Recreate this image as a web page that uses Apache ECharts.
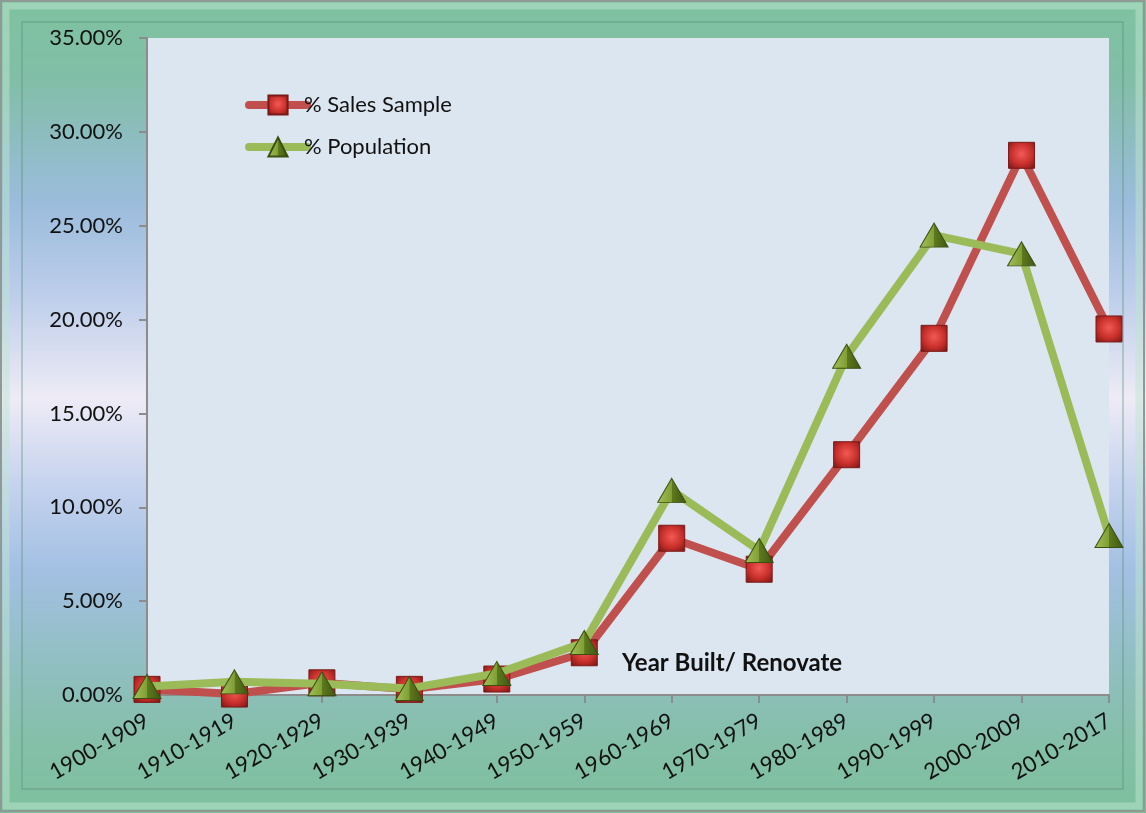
<!DOCTYPE html>
<html>
<head>
<meta charset="utf-8">
<script src="https://cdn.jsdelivr.net/npm/echarts@6/dist/echarts.min.js"></script>
<style>
html, body { margin: 0; padding: 0; }
#chart { width: 1146px; height: 813px; }
</style>
</head>
<body>
<div id="chart"></div>
<script>
var categories = ['1900-1909', '1910-1919', '1920-1929', '1930-1939', '1940-1949', '1950-1959',
                  '1960-1969', '1970-1979', '1980-1989', '1990-1999', '2000-2009', '2010-2017'];
// values in percent
var salesSample = [0.3, 0.05, 0.65, 0.3, 0.85, 2.25, 8.35, 6.7, 12.8, 19.0, 28.75, 19.5];
var population  = [0.45, 0.7, 0.6, 0.35, 1.15, 2.8, 10.9, 7.7, 18.05, 24.5, 23.5, 8.5];
var yTicks = { min: 0, max: 35, interval: 5 };

var chart = echarts.init(document.getElementById('chart'));
var G = echarts.graphic;
var font = 'Lato, "Open Sans", sans-serif';

var redMarker = new G.RadialGradient(0.5, 0.45, 0.7, [
    { offset: 0, color: '#f25a55' },
    { offset: 0.55, color: '#c9302c' },
    { offset: 1, color: '#7a1614' }
]);
var greenMarker = new G.LinearGradient(0, 0, 1, 0, [
    { offset: 0, color: '#a4c25a' },
    { offset: 0.5, color: '#7f9e34' },
    { offset: 0.51, color: '#5d7a1e' },
    { offset: 1, color: '#3f5512' }
]);

var option = {
    backgroundColor: new G.LinearGradient(0, 0, 0, 1, [
        { offset: 0, color: '#7ec29f' },
        { offset: 0.1, color: '#82bea8' },
        { offset: 0.25, color: '#9bbcdc' },
        { offset: 0.36, color: '#bccdea' },
        { offset: 0.49, color: '#eeebf6' },
        { offset: 0.6, color: '#c4d2ee' },
        { offset: 0.7, color: '#a3c0e3' },
        { offset: 0.8, color: '#93bfc6' },
        { offset: 0.9, color: '#86bfab' },
        { offset: 1, color: '#7dc09c' }
    ]),
    textStyle: { fontFamily: font },
    graphic: [
        {
            type: 'rect', z: -1, silent: true,
            shape: { x: 1, y: 1, width: 1143, height: 810 },
            style: { fill: null, stroke: '#8f9a94', lineWidth: 2 }
        },
        {
            type: 'rect', z: -1, silent: true,
            shape: { x: 6, y: 6, width: 1133, height: 800 },
            style: { fill: null, stroke: 'rgba(190,230,208,0.5)', lineWidth: 7 }
        },
        {
            type: 'rect', z: -1, silent: true,
            shape: { x: 22, y: 22, width: 1101, height: 767 },
            style: { fill: null, stroke: 'rgba(90,140,120,0.45)', lineWidth: 1.5 }
        },
        {
            type: 'text', left: 622, top: 651, z: 10, silent: true,
            style: { text: 'Year Built/ Renovate', fontSize: 24, fontWeight: 'bold', fill: '#111', fontFamily: font }
        }
    ],
    legend: {
        left: 240,
        top: 89,
        orient: 'vertical',
        itemWidth: 58,
        itemHeight: 24,
        itemGap: 20,
        lineStyle: { width: 8, cap: 'round' },
        textStyle: { fontSize: 22, color: '#111', fontFamily: font, padding: [0, 0, 0, -8] },
        data: ['% Sales Sample', '% Population']
    },
    grid: {
        left: 147, right: 37, top: 38, bottom: 118,
        show: true, backgroundColor: '#dce6f1', borderWidth: 0
    },
    xAxis: {
        type: 'category',
        data: categories,
        boundaryGap: false,
        axisLine: { lineStyle: { color: '#8c8c8c', width: 2 } },
        axisTick: { alignWithLabel: true, length: 8, lineStyle: { color: '#8c8c8c', width: 2 } },
        axisLabel: { rotate: 30, fontSize: 22, color: '#111', margin: 24, fontFamily: font },
        splitLine: { show: false }
    },
    yAxis: {
        type: 'value',
        min: yTicks.min, max: yTicks.max, interval: yTicks.interval,
        axisLine: { show: true, lineStyle: { color: '#8c8c8c', width: 2 } },
        axisTick: { show: true, length: 8, lineStyle: { color: '#8c8c8c', width: 2 } },
        axisLabel: {
            fontSize: 22, color: '#111', margin: 24, fontFamily: font,
            formatter: function (v) { return v.toFixed(2) + '%'; }
        },
        splitLine: { show: false }
    },
    series: [
        {
            name: '% Sales Sample',
            type: 'line',
            data: salesSample,
            symbol: 'rect',
            symbolSize: 26,
            lineStyle: { color: '#c0504d', width: 8 },
            itemStyle: { color: redMarker, borderColor: '#7a1a18', borderWidth: 1 },
            z: 2
        },
        {
            name: '% Population',
            type: 'line',
            data: population,
            symbol: 'triangle',
            symbolSize: [28, 24],
            lineStyle: { color: '#9bbb59', width: 8 },
            itemStyle: { color: greenMarker, borderColor: '#3a4f10', borderWidth: 1 },
            z: 3
        }
    ]
};

chart.setOption(option);
</script>
</body>
</html>
